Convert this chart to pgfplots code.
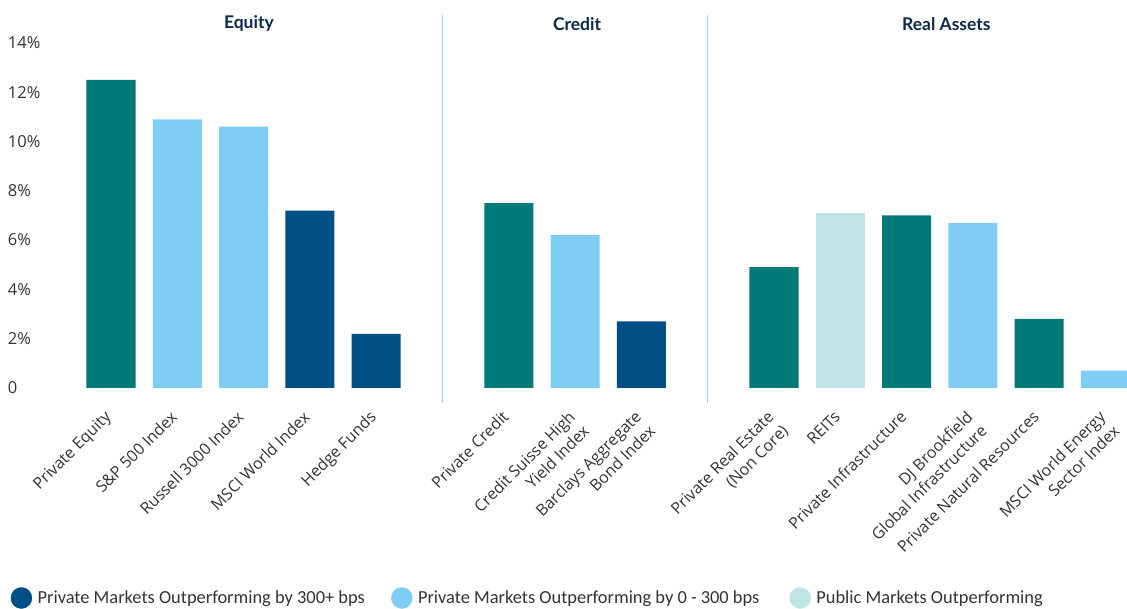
\documentclass[border=0pt]{standalone}
\usepackage{fontspec}
\setmainfont{Open Sans}
\newfontfamily\legfont{Carlito}
\newfontfamily\titfont{Lato}
\usepackage{pgfplots}
\pgfplotsset{compat=1.18}
\definecolor{tealb}{HTML}{007A78}
\definecolor{lightb}{HTML}{7FCDF3}
\definecolor{darkb}{HTML}{004E86}
\definecolor{paleb}{HTML}{C0E3E5}
\definecolor{sepc}{HTML}{9AD4F0}
\definecolor{navy}{HTML}{0B2A4A}
\definecolor{tickc}{HTML}{333333}
\newcommand{\twol}[2]{\begin{tabular}[t]{@{}r@{}}#1\\#2\end{tabular}}
\begin{document}
\begin{tikzpicture}
\path[use as bounding box] (0pt,0pt) rectangle (1127pt,608pt);
\begin{axis}[
  at={(44.7pt,220pt)}, anchor=south west,
  scale only axis, width=1082pt, height=345.1pt,
  xmin=-1, xmax=15.32, ymin=0, ymax=14,
  clip=false,
  axis line style={draw=none},
  major tick length=0pt,
  ytick={0,2,4,6,8,10,12,14},
  yticklabels={0,2\%,4\%,6\%,8\%,10\%,12\%,14\%},
  yticklabel style={anchor=west, xshift=-37pt, inner sep=0pt, font=\fontsize{16.5}{18}\selectfont, text=tickc},
  xtick={0,1,2,3,4,6,7,8,10,11,12,13,14,15},
  xticklabels={Private Equity, S\&P 500 Index, Russell 3000 Index, MSCI World Index, Hedge Funds,
    Private Credit, {\twol{Credit Suisse High}{Yield Index}}, {\twol{Barclays Aggregate}{Bond Index}},
    {\twol{Private Real Estate}{(Non Core)}}, REITs, Private Infrastructure, {\twol{DJ Brookfield}{Global Infrastructure}},
    Private Natural Resources, {\twol{MSCI World Energy}{Sector Index}}},
  xticklabel style={yshift=-30pt, xshift=1pt, rotate=45, anchor=base east, inner sep=0pt, font=\fontsize{16}{20}\selectfont, text=tickc},
  legend style={at={(-0.0316,-0.6085)}, anchor=west, draw=none, fill=none, inner sep=0pt,
    font=\legfont\fontsize{18.4}{20}\selectfont, text=tickc, nodes={inner sep=0pt},
    /tikz/every odd column/.append style={column sep=5.5pt}},
  legend columns=3,
  legend cell align=left,
]
% separators
\addplot[sepc, line width=1.6pt, forget plot] coordinates {(5,-0.61) (5,15.13)};
\addplot[sepc, line width=1.6pt, forget plot] coordinates {(9,-0.61) (9,15.13)};
% bars
\addplot[ybar, bar width=0.74, bar shift=0pt, fill=tealb, draw=none, forget plot]
  coordinates {(0,12.5) (6,7.5) (10,4.9) (12,7.0) (14,2.8)};
\addplot[ybar, bar width=0.74, bar shift=0pt, fill=lightb, draw=none, forget plot]
  coordinates {(1,10.9) (2,10.6) (7,6.2) (13,6.7) (15,0.7)};
\addplot[ybar, bar width=0.74, bar shift=0pt, fill=darkb, draw=none, forget plot]
  coordinates {(3,7.2) (4,2.2) (8,2.7)};
\addplot[ybar, bar width=0.74, bar shift=0pt, fill=paleb, draw=none, forget plot]
  coordinates {(11,7.1)};
% legend
\addlegendimage{legend image code/.code={\fill[darkb] (10.5pt,0pt) circle (10.5pt);}}
\addlegendentry{\makebox[353.5pt][l]{Private Markets Outperforming by 300+ bps}}
\addlegendimage{legend image code/.code={\fill[lightb] (10.5pt,0pt) circle (10.5pt);}}
\addlegendentry{\makebox[371.5pt][l]{Private Markets Outperforming by 0 - 300 bps}}
\addlegendimage{legend image code/.code={\fill[paleb] (10.5pt,0pt) circle (10.5pt);}}
\addlegendentry{Public Markets Outperforming}
% group titles
\node[font=\titfont\bfseries\fontsize{17.5}{20}\selectfont, text=navy] at (axis cs:2.08,14.78) {Equity};
\node[font=\titfont\bfseries\fontsize{17.5}{20}\selectfont, text=navy] at (axis cs:7.03,14.78) {Credit};
\node[font=\titfont\bfseries\fontsize{17.5}{20}\selectfont, text=navy] at (axis cs:12.6,14.78) {Real Assets};
\end{axis}
\end{tikzpicture}
\end{document}
